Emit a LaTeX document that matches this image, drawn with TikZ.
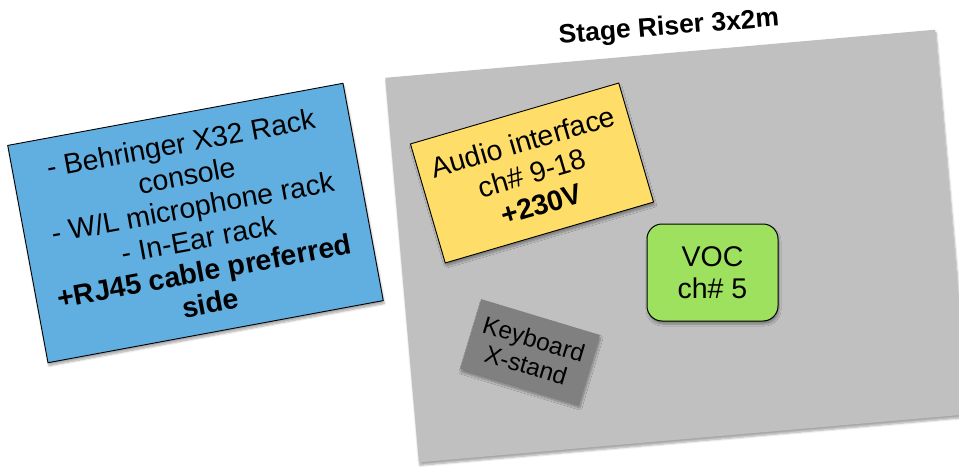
\documentclass[tikz,border=0pt]{standalone}
\usepackage{fontspec}
\setmainfont{Liberation Sans}
\usetikzlibrary{shadows.blur}
\definecolor{riser}{RGB}{192,192,192}
\definecolor{bluebox}{RGB}{97,174,224}
\definecolor{yellowbox}{RGB}{254,222,104}
\definecolor{greenbox}{RGB}{157,225,95}
\definecolor{kbbox}{RGB}{128,128,128}
\tikzset{
  shd/.style={blur shadow={shadow blur steps=6, shadow xshift=1pt, shadow yshift=-3pt, shadow opacity=35}},
  plate/.style={shape=rectangle, inner sep=0pt, align=center, shd},
  bigtxt/.style={font=\fontsize{28.5}{32.5}\selectfont},
  kbtxt/.style={font=\fontsize{24.5}{27.5}\selectfont},
}
\begin{document}
\begin{tikzpicture}[x=1pt,y=-1pt]
\useasboundingbox (0,0) rectangle (959,471);
% stage riser
\node[plate, fill=riser, minimum width=552pt, minimum height=386pt, rotate=5] (riser) at (677,246) {};
\node[font=\fontsize{26.5}{29}\selectfont\bfseries, rotate=4.5] (title) at (669,28) {Stage Riser 3x2m};
% FOH / rack box
\node[plate, fill=bluebox, draw=black, line width=0.9pt, minimum width=341pt, minimum height=221pt, rotate=10.5, bigtxt] (rack) at (195.5,223)
  {- Behringer X32 Rack\\console\\- W/L microphone rack\\- In-Ear rack\\\textbf{+RJ45 cable preferred}\\\textbf{side}};
% audio interface
\node[plate, fill=yellowbox, draw=black, line width=0.9pt, minimum width=217pt, minimum height=124pt, rotate=16.3, bigtxt] (audio) at (532,173)
  {Audio interface\\ch\# 9-18\\\textbf{+230V}};
% vocals
\node[plate, fill=greenbox, draw=black, line width=1pt, rounded corners=15pt, minimum width=131pt, minimum height=97pt, bigtxt] (voc) at (712.5,272.5)
  {VOC\\ch\# 5};
% keyboard
\node[plate, fill=kbbox, minimum width=124pt, minimum height=73pt, rotate=-16.8, kbtxt] (kb) at (530,352)
  {Keyboard\\X-stand};
\end{tikzpicture}
\end{document}
